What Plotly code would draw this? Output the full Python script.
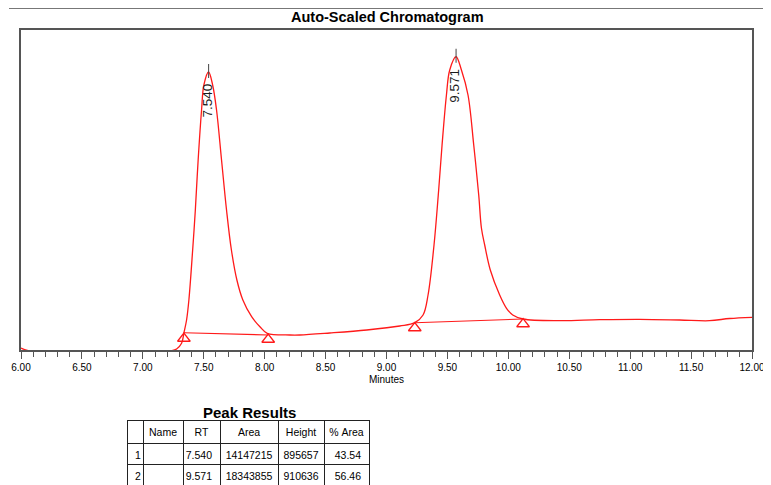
import plotly.graph_objects as go

# chromatogram trace (minutes, signal)
time_min = [
    6.000, 6.074, 6.648, 7.222, 7.277, 7.318, 7.337, 7.359, 7.378, 7.409, 7.431,
    7.454, 7.482, 7.501, 7.540, 7.573, 7.605, 7.646, 7.687, 7.727, 7.772, 7.821,
    7.893, 7.961, 8.021, 8.207, 8.289, 8.535, 8.838, 9.109, 9.232, 9.300, 9.341,
    9.390, 9.425, 9.456, 9.492, 9.519, 9.571, 9.615, 9.669, 9.716, 9.757, 9.779,
    9.806, 9.852, 9.929, 9.985, 10.036, 10.121, 10.422, 10.750, 11.078, 11.406,
    11.652, 11.816, 12.000,
]
signal = [
    6800, -3400, -3400, -3400, 3400, 22780, 57800, 102000, 170000, 340000, 476000,
    646000, 816000, 901000, 945200, 901000, 816000, 646000, 476000, 340000, 238000, 170000,
    113220, 79220, 56780, 51000, 51000, 57800, 68000, 81600, 92820, 119000, 187000,
    357000, 527000, 697000, 867000, 952000, 997000, 952000, 867000, 697000, 527000, 414800,
    357000, 272000, 187000, 141780, 119000, 105400, 99620, 103020, 104380, 102000,
    99620, 107100, 111180,
]

# integration baselines (start / end of each peak)
base1_time = [7.337, 8.029]
base1_signal = [58820, 51000]
base2_time = [9.232, 10.121]
base2_signal = [92820, 105400]

# triangle markers under peak start / end points
marker_time = [7.337, 8.029, 9.232, 10.121]
marker_signal = [39100, 35700, 74800, 88400]

# peak labels
peak_rt = [7.540, 9.571]
peak_apex = [945200, 997000]
peak_labels = ["7.540", "9.571"]

# peak results table
tbl_headers = ["", "Name", "RT", "Area", "Height", "%\u00a0Area"]
tbl_num = ["1", "2"]
tbl_name = ["", ""]
tbl_rt = ["7.540", "9.571"]
tbl_area = ["14147215", "18343855"]
tbl_height = ["895657", "910636"]
tbl_pct = ["43.54", "56.46"]

FONT = "Liberation Sans, Arial, sans-serif"
RED = "#ff1a1a"
AXIS = "#555555"
W, H = 771, 485
PAGE = 8  # the page body margin that shifts the figure on screen


def fx(px):
    return (px - PAGE) / W


def fy(py):
    return 1 - (py - PAGE) / H


fig = go.Figure()
fig.add_trace(
    go.Scatter(
        x=time_min,
        y=signal,
        mode="lines",
        line=dict(color=RED, width=1.3, shape="spline", smoothing=1.0),
        hoverinfo="skip",
    )
)
for bx, by in [(base1_time, base1_signal), (base2_time, base2_signal)]:
    fig.add_trace(
        go.Scatter(x=bx, y=by, mode="lines", line=dict(color=RED, width=1.1), hoverinfo="skip")
    )
fig.add_trace(
    go.Scatter(
        x=marker_time,
        y=marker_signal,
        mode="markers",
        marker=dict(symbol="triangle-up-open", size=11, color=RED, line=dict(width=1.3)),
        hoverinfo="skip",
    )
)

for rt, apex, label in zip(peak_rt, peak_apex, peak_labels):
    fig.add_shape(
        type="line",
        xref="x",
        yref="y",
        ysizemode="pixel",
        yanchor=apex,
        x0=rt,
        x1=rt,
        y0=-6,
        y1=8,
        line=dict(color="#444444", width=1),
    )
    fig.add_annotation(
        x=rt,
        y=apex,
        text=label,
        textangle=-90,
        showarrow=False,
        yanchor="top",
        xanchor="center",
        yshift=-10,
        xshift=-1,
        font=dict(family=FONT, size=13.5, color="#1a1a1a"),
    )

fig.add_trace(
    go.Table(
        domain=dict(x=[fx(127), fx(369)], y=[0, fy(420)]),
        columnwidth=[16, 40, 37, 58, 46, 45],
        header=dict(
            values=tbl_headers,
            align="center",
            height=23,
            line=dict(color="#222222", width=1),
            fill=dict(color="white"),
            font=dict(family=FONT, size=10.5, color="black"),
        ),
        cells=dict(
            values=[tbl_num, tbl_name, tbl_rt, tbl_area, tbl_height, tbl_pct],
            align=["left", "left", "right", "center", "center", "right"],
            height=21,
            line=dict(color="#222222", width=1),
            fill=dict(color="white"),
            font=dict(family=FONT, size=10.5, color="black"),
        ),
    )
)

fig.add_annotation(
    text="<b>Peak Results</b>",
    xref="paper",
    yref="paper",
    x=fx(249),
    y=fy(412),
    xanchor="center",
    yanchor="middle",
    showarrow=False,
    font=dict(family=FONT, size=15, color="black"),
)
fig.add_annotation(
    text="<b>Auto-Scaled Chromatogram</b>",
    xref="paper",
    yref="paper",
    x=fx(387),
    y=fy(17),
    xanchor="center",
    yanchor="middle",
    showarrow=False,
    font=dict(family=FONT, size=14.5, color="black"),
)

# header rule across the top of the page
fig.add_shape(
    type="line",
    xref="paper",
    yref="paper",
    x0=fx(9),
    x1=1,
    y0=fy(8),
    y1=fy(8),
    line=dict(color="#777777", width=2),
)

fig.update_layout(
    width=W,
    height=H,
    margin=dict(l=0, r=0, t=0, b=0, autoexpand=False),
    paper_bgcolor="white",
    plot_bgcolor="white",
    showlegend=False,
    font=dict(family=FONT, size=10, color="black"),
    xaxis=dict(
        domain=[fx(21), fx(752)],
        automargin=False,
        range=[6, 12],
        dtick=0.5,
        tick0=6,
        tickformat=".2f",
        ticks="outside",
        ticklen=7,
        tickwidth=1,
        tickcolor=AXIS,
        minor=dict(dtick=0.1, ticks="outside", ticklen=5, tickcolor=AXIS, tickwidth=1),
        showline=True,
        mirror=True,
        linecolor=AXIS,
        linewidth=2,
        showgrid=False,
        zeroline=False,
        tickfont=dict(family=FONT, size=10, color="black"),
        title=dict(text="Minutes", standoff=4, font=dict(family=FONT, size=10, color="black")),
    ),
    yaxis=dict(
        domain=[fy(350), fy(30)],
        automargin=False,
        range=[0, 1088000],
        showticklabels=False,
        ticks="",
        showline=True,
        mirror=True,
        linecolor=AXIS,
        linewidth=1.5,
        showgrid=False,
        zeroline=False,
    ),
)

fig.write_html("out.html")
